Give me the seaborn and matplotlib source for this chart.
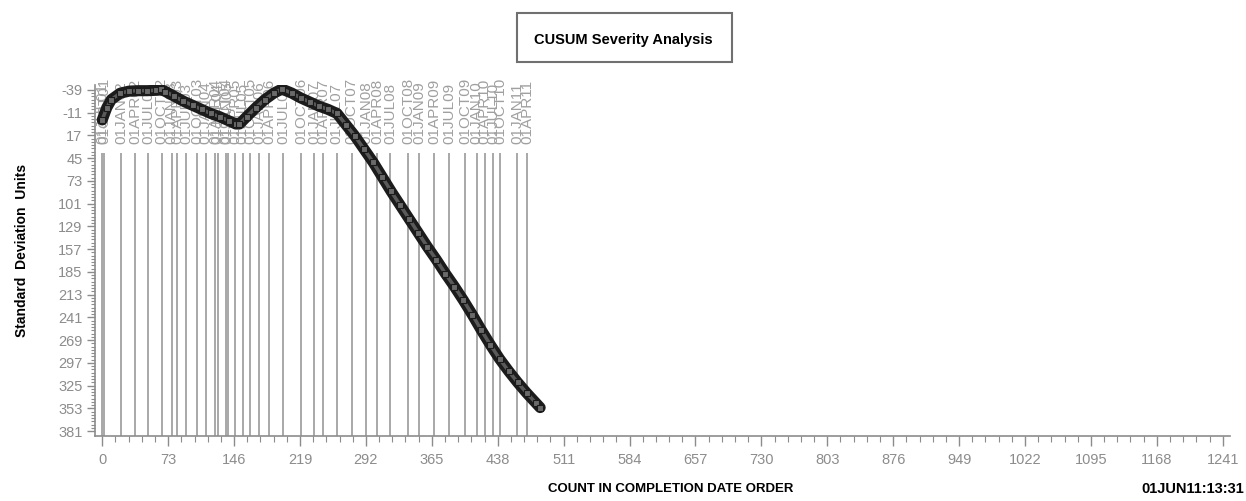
import matplotlib
matplotlib.use("Agg")
import matplotlib.pyplot as plt
import numpy as np
import pandas as pd
import seaborn as sns
from matplotlib import font_manager
from matplotlib.patches import Rectangle
from matplotlib.ticker import FixedLocator

# ---------------- data ----------------
count = [0, 5, 10, 20, 30, 40, 50, 60, 65, 70, 80, 90, 100, 110, 120, 130, 140, 148,
         152, 160, 170, 180, 190, 199, 210, 220, 230, 240, 250, 260, 270, 280, 290,
         300, 310, 320, 330, 340, 350, 360, 370, 380, 390, 400, 410, 420, 430, 440,
         450, 460, 470, 480, 485]
cusum = [-2, -17, -27, -35, -37.5, -38, -38, -38.5, -39.5, -37, -31, -25, -20, -15,
         -10, -6, -1, 3, 3, -6, -17, -27, -35, -40, -35, -29, -24, -19, -15, -10, 4,
         18, 34, 50, 68, 86, 103, 120, 137, 154, 170, 187, 203, 220, 238, 257, 275,
         292, 307, 321, 334, 346, 352]

date_pos = [0, 2.3, 20.8, 36.3, 51, 65.9, 77, 83.2, 92.8, 105.4, 114.6, 124.9, 127.9,
            136.8, 139, 147, 155.6, 163.7, 174, 185, 200.5, 220.2, 234.5, 244.9,
            259.5, 276.3, 292.1, 304.6, 318.7, 339, 351.2, 367.4, 384, 401.8, 414.7,
            423.6, 433.1, 440.5, 459.7, 470.8]
date_labels = ["01JUL01", "01OCT01",
               "01JAN02", "01APR02", "01JUL02", "01OCT02",
               "01JAN03", "01APR03", "01JUL03", "01OCT03",
               "01JAN04", "01APR04", "01JUL04", "01OCT04",
               "01JAN05", "01APR05", "01JUL05", "01OCT05",
               "01JAN06", "01APR06", "01JUL06", "01OCT06",
               "01JAN07", "01APR07", "01JUL07", "01OCT07",
               "01JAN08", "01APR08", "01JUL08", "01OCT08",
               "01JAN09", "01APR09", "01JUL09", "01OCT09",
               "01JAN10", "01APR10", "01JUL10", "01OCT10",
               "01JAN11", "01APR11"]

x_ticks = [0, 73, 146, 219, 292, 365, 438, 511, 584, 657, 730, 803, 876, 949,
           1022, 1095, 1168, 1241]
y_ticks = [-39, -11, 17, 45, 73, 101, 129, 157, 185, 213, 241, 269, 297, 325, 353, 381]

title = "CUSUM Severity Analysis"
y_label = "Standard  Deviation  Units"
x_label = "COUNT IN COMPLETION DATE ORDER"
stamp = "01JUN11:13:31"

# ---------------- style ----------------
sns.set_theme(style="white")
names = {f.name for f in font_manager.fontManager.ttflist}
narrow = "Liberation Sans Narrow" if "Liberation Sans Narrow" in names else "Liberation Sans"
plt.rcParams["font.family"] = [narrow, "DejaVu Sans"]

GRAY = "#8c8c8c"

fig = plt.figure(figsize=(12.46, 5.01), dpi=100)
ax = fig.add_axes([95 / 1246, 1 - 436 / 501, 1135 / 1246, 351 / 501])

ax.set_xlim(-8, 1249)
ax.set_ylim(387, -45)

# vertical reference lines at date boundaries
ax.vlines(date_pos, 39, 387, color="#a8a8a8", lw=1.4, zorder=1)
for xp, lab in zip(date_pos, date_labels):
    ax.text(xp, 27, lab, rotation=90, ha="center", va="bottom", fontsize=11,
            color="#a0a0a0", clip_on=False, zorder=2,
            family=[narrow, "DejaVu Sans"])

df = pd.DataFrame({"count": count, "cusum": cusum})
sns.lineplot(data=df, x="count", y="cusum", ax=ax, color="#1c1c1c", lw=8,
             zorder=3, legend=False)
sns.lineplot(data=df, x="count", y="cusum", ax=ax, color="#5a5a5a", lw=2.5,
             marker="s", markersize=5, markerfacecolor="#6a6a6a",
             markeredgecolor="#1a1a1a", markeredgewidth=0.8, zorder=4, legend=False)

ax.set_xlabel("")
ax.set_ylabel("")

# ticks
ax.xaxis.set_major_locator(FixedLocator(x_ticks))
ax.xaxis.set_minor_locator(FixedLocator(list(np.arange(0, 1242, 14.6))))
ax.yaxis.set_major_locator(FixedLocator(y_ticks))
ax.yaxis.set_minor_locator(FixedLocator(list(range(-39, 382, 4))))
ax.set_xticklabels([str(v) for v in x_ticks])
ax.set_yticklabels([str(v) for v in y_ticks])
ax.tick_params(axis="x", which="major", direction="out", length=7, width=1,
               color=GRAY, labelcolor=GRAY, labelsize=10.5, pad=5, bottom=True)
ax.tick_params(axis="x", which="minor", direction="out", length=4, width=0.8,
               color=GRAY, bottom=True)
ax.tick_params(axis="y", which="major", direction="out", length=6, width=1,
               color=GRAY, labelcolor=GRAY, labelsize=10.5, pad=3, left=True)
ax.tick_params(axis="y", which="minor", direction="out", length=3, width=0.8,
               color=GRAY, left=True)

for s in ["top", "right"]:
    ax.spines[s].set_visible(False)
for s in ["left", "bottom"]:
    ax.spines[s].set_color(GRAY)
    ax.spines[s].set_linewidth(1.2)

# title box
fig.patches.append(Rectangle((517 / 1246, 1 - 62 / 501), 215 / 1246, 49 / 501,
                             transform=fig.transFigure, fill=False,
                             edgecolor="#707070", lw=1.5))
fig.text(623 / 1246, 1 - 40 / 501, title, ha="center", va="center",
         fontsize=10.5, fontweight="bold", color="black")

fig.text(22 / 1246, 1 - 250 / 501, y_label, rotation=90, ha="center", va="center",
         fontsize=10, fontweight="bold", color="black",
         family=["Liberation Sans", "DejaVu Sans"])
fig.text(671 / 1246, 1 - 489 / 501, x_label, ha="center", va="center",
         fontsize=9.5, fontweight="bold", color="black")
fig.text(1244 / 1246, 1 - 489 / 501, stamp, ha="right", va="center",
         fontsize=10.5, fontweight="bold", color="black")

fig.savefig("out.png", dpi=100)
